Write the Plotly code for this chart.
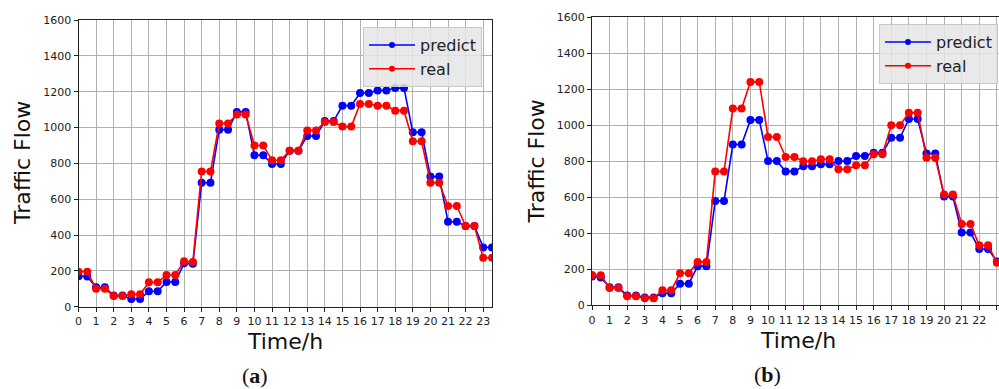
import plotly.graph_objects as go

hours = [0, 0.5, 1, 1.5, 2, 2.5, 3, 3.5, 4, 4.5, 5, 5.5, 6, 6.5, 7, 7.5,
         8, 8.5, 9, 9.5, 10, 10.5, 11, 11.5, 12, 12.5, 13, 13.5, 14, 14.5, 15, 15.5,
         16, 16.5, 17, 17.5, 18, 18.5, 19, 19.5, 20, 20.5, 21, 21.5, 22, 22.5, 23, 23.5]

a_predict = [170, 168, 108, 108, 62, 62, 43, 43, 86, 86, 138, 138, 242, 240, 692, 692,
             988, 988, 1087, 1087, 845, 845, 796, 796, 871, 871, 953, 953, 1036, 1036, 1122, 1122,
             1193, 1193, 1207, 1207, 1220, 1220, 973, 973, 726, 726, 474, 474, 450, 450, 331, 331]
a_real = [195, 195, 100, 100, 60, 60, 69, 69, 136, 136, 177, 177, 253, 250, 755, 755,
          1023, 1023, 1073, 1073, 900, 900, 817, 817, 871, 871, 984, 984, 1031, 1031, 1005, 1005,
          1131, 1131, 1122, 1122, 1094, 1094, 923, 923, 692, 692, 562, 562, 450, 450, 273, 273]

b_predict = [160, 155, 100, 100, 54, 54, 44, 44, 67, 67, 120, 120, 217, 217, 580, 580,
             893, 893, 1030, 1030, 802, 802, 744, 744, 772, 772, 783, 783, 802, 802, 830, 830,
             848, 848, 931, 931, 1035, 1035, 843, 843, 604, 604, 404, 404, 313, 313, 244, 244]
b_real = [168, 167, 96, 96, 50, 50, 39, 39, 83, 83, 178, 178, 241, 241, 744, 744,
          1093, 1093, 1241, 1241, 935, 935, 824, 824, 800, 800, 811, 811, 756, 756, 778, 778,
          839, 839, 1000, 1000, 1070, 1070, 820, 820, 615, 615, 452, 452, 333, 333, 237, 237]

series_names = ["predict", "real"]
x_ticks = list(range(24))
y_ticks = [0, 200, 400, 600, 800, 1000, 1200, 1400, 1600]

BLUE = "#0000ff"
RED = "#ff0000"
W, H = 999, 389

fig = go.Figure()

def add(x, y, color, xa, ya):
    fig.add_trace(go.Scatter(
        x=x, y=y, mode="lines+markers",
        line=dict(color=color, width=1.6),
        marker=dict(color=color, size=8),
        xaxis=xa, yaxis=ya, showlegend=False, cliponaxis=True))

def add_legend_entry(name, color, xa, ya, legend):
    fig.add_trace(go.Scatter(
        x=[None], y=[None], name=name, mode="lines+markers",
        line=dict(color=color, width=1.5),
        marker=dict(color=color, size=6),
        xaxis=xa, yaxis=ya, legend=legend, showlegend=True))

add(hours, a_predict, BLUE, "x", "y")
add(hours, a_real, RED, "x", "y")
add(hours, b_predict, BLUE, "x2", "y2")
add(hours, b_real, RED, "x2", "y2")
add_legend_entry(series_names[0], BLUE, "x", "y", "legend")
add_legend_entry(series_names[1], RED, "x", "y", "legend")
add_legend_entry(series_names[0], BLUE, "x2", "y2", "legend2")
add_legend_entry(series_names[1], RED, "x2", "y2", "legend2")

tickfont = dict(family="DejaVu Sans", size=11, color="#222222")

def xax(domain, rng, anchor):
    return dict(domain=domain, range=rng, anchor=anchor, tickmode="array",
                tickvals=x_ticks, ticktext=[str(t) for t in x_ticks],
                showgrid=True, gridcolor="#b0b0b0", gridwidth=1,
                showline=True, linecolor="#222222", linewidth=1, mirror=True,
                ticks="outside", ticklen=4, tickcolor="#222222",
                tickfont=tickfont, zeroline=False, fixedrange=True,
                automargin=False)

def yax(domain, anchor):
    return dict(domain=domain, range=[0, 1600], anchor=anchor, tickmode="array",
                tickvals=y_ticks, ticktext=[str(t) for t in y_ticks],
                showgrid=True, gridcolor="#b0b0b0", gridwidth=1,
                showline=True, linecolor="#222222", linewidth=1, mirror=True,
                ticks="outside", ticklen=4, tickcolor="#222222",
                tickfont=tickfont, zeroline=False, fixedrange=True,
                automargin=False)

legend_common = dict(bgcolor="rgba(229,229,229,0.85)", bordercolor="#c8c8c8",
                     borderwidth=1, font=dict(family="DejaVu Sans", size=16, color="#222222"),
                     xanchor="left", yanchor="top", tracegroupgap=0,
                     itemwidth=46)

fig.update_layout(
    width=W, height=H,
    margin=dict(l=0, r=0, t=0, b=0, autoexpand=False),
    paper_bgcolor="white", plot_bgcolor="white",
    xaxis=xax([78.5 / W, 492 / W], [0, 23.5], "y"),
    yaxis=yax([(H - 306.7) / H, (H - 20) / H], "x"),
    xaxis2=xax([592 / W, 1.0], [0, 23.12], "y2"),
    yaxis2=yax([(H - 305.3) / H, (H - 17.3) / H], "x2"),
    legend=dict(x=363 / W, y=1 - 27 / H, **legend_common),
    legend2=dict(x=879 / W, y=1 - 24 / H, **legend_common),
)

title_font = dict(family="DejaVu Sans", size=22, color="#111111")
label_font = dict(family="Liberation Serif", size=22, color="#111111")

annots = [
    dict(text="Traffic Flow", x=22 / W, y=1 - 163 / H, textangle=-90, font=title_font),
    dict(text="Time/h", x=285 / W, y=1 - 341 / H, font=title_font),
    dict(text="(<b>a</b>)", x=255 / W, y=1 - 375 / H, font=label_font),
    dict(text="Traffic Flow", x=535.5 / W, y=1 - 162 / H, textangle=-90, font=title_font),
    dict(text="Time/h", x=798 / W, y=1 - 340 / H, font=title_font),
    dict(text="(<b>b</b>)", x=767 / W, y=1 - 374 / H, font=label_font),
]
for a in annots:
    fig.add_annotation(xref="paper", yref="paper", showarrow=False,
                       xanchor="center", yanchor="middle", **a)

fig.write_html("out.html")
